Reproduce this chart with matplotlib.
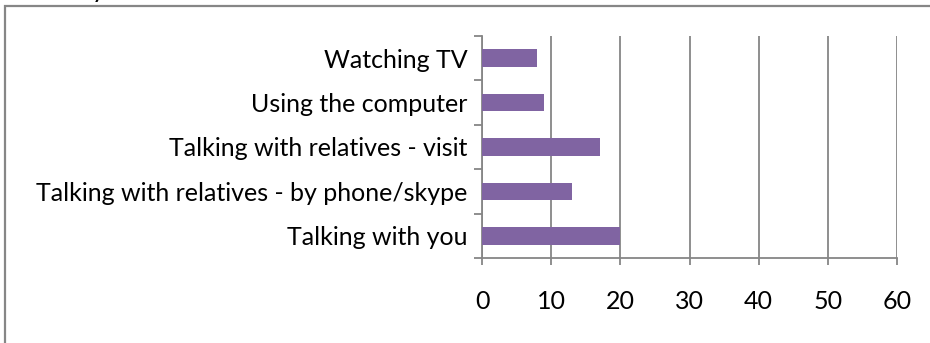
import matplotlib.pyplot as plt
from matplotlib.patches import Rectangle

# survey answers, bottom to top as drawn
activities = ['Talking with you',
              'Talking with relatives - by phone/skype',
              'Talking with relatives - visit',
              'Using the computer',
              'Watching TV']
counts = [20, 13, 17, 9, 8]
x_ticks = [0, 10, 20, 30, 40, 50, 60]

plt.rcParams['font.family'] = ['Lato', 'DejaVu Sans']

W, H = 930, 343
fig = plt.figure(figsize=(W / 100, H / 100), dpi=100)
ax = fig.add_axes([482 / W, 1 - 258 / H, (897 - 482) / W, (258 - 36) / H])

grey = '#868686'
pos = list(range(len(activities)))
ax.barh(pos, counts, height=0.4, color='#8064A2', zorder=3)

ax.set_xlim(0, 60)
ax.set_ylim(-0.5, len(activities) - 0.5)
ax.set_xticks(x_ticks)
ax.set_xticklabels([str(t) for t in x_ticks])
ax.set_yticks(pos)
ax.set_yticklabels(activities)
# category boundary ticks, like an Excel category axis
ax.set_yticks([p - 0.5 for p in pos] + [len(activities) - 0.5], minor=True)
ax.tick_params(axis='y', which='major', length=0, pad=10.5, labelsize=18)
ax.tick_params(axis='y', which='minor', length=6, color=grey, width=1.3)
ax.tick_params(axis='x', length=5, color=grey, width=1.3, pad=18, labelsize=18)

ax.grid(axis='x', color=grey, linewidth=1.3, zorder=0)
for s in ['top', 'right']:
    ax.spines[s].set_visible(False)
for s in ['left', 'bottom']:
    ax.spines[s].set_color(grey)
    ax.spines[s].set_linewidth(1.3)

# outer chart frame, running off the right and bottom edges
fig.patches.append(Rectangle((4.5 / W, -0.1), 1.2, 1 - 6 / H + 0.1,
                             transform=fig.transFigure, fill=False,
                             edgecolor=grey, linewidth=1.6))
# bottom of the title line above the frame
fig.text(93 / W, 1 + 1 / H, 'y', fontsize=14, fontweight='bold',
         va='baseline', ha='left')

fig.savefig('out.png', dpi=100)
